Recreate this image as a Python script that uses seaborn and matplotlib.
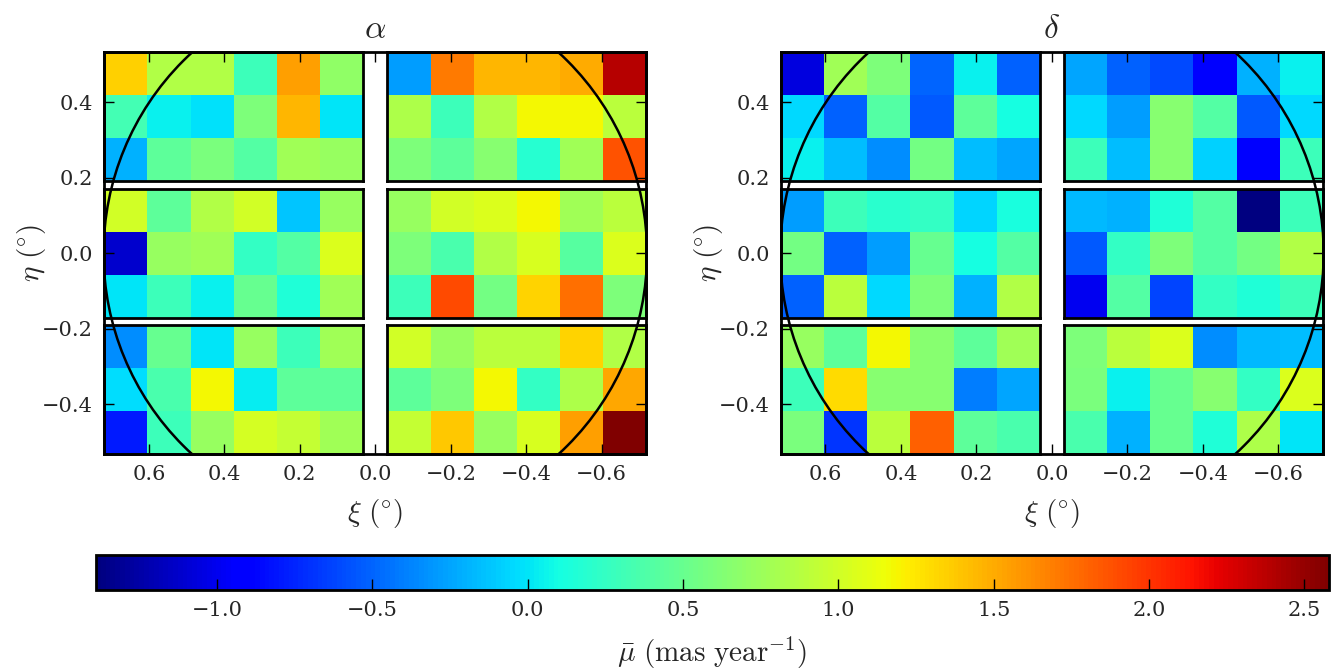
import numpy as np
import matplotlib
matplotlib.use("Agg")
import matplotlib.pyplot as plt
import seaborn as sns
from matplotlib.patches import Circle

# Mean proper motion per cell (mas / year).
# Rows run top -> bottom (eta decreasing), columns left -> right as drawn (xi decreasing).
# Columns 0-5 are the left chips, 6-11 the right chips; rows 0-2 / 3-5 / 6-8 the three chip rows.
alpha_mu = [
    [1.35, 0.85, 0.85, 0.30, 1.55, 0.70, -0.28, 1.70, 1.45, 1.45, 1.50, 2.38],
    [0.32, 0.04, -0.02, 0.60, 1.45, 0.00, 0.83, 0.30, 0.85, 1.17, 1.17, 0.90],
    [-0.20, 0.45, 0.58, 0.40, 0.78, 0.72, 0.60, 0.45, 0.65, 0.18, 0.78, 1.87],
    [1.00, 0.45, 0.85, 1.00, -0.12, 0.72, 0.72, 1.00, 1.05, 1.18, 0.78, 0.90],
    [-1.12, 0.72, 0.78, 0.25, 0.40, 1.05, 0.60, 0.36, 0.85, 1.03, 0.42, 1.05],
    [0.00, 0.30, 0.05, 0.50, 0.15, 0.78, 0.30, 1.90, 0.55, 1.33, 1.75, 0.60],
    [-0.35, 0.50, 0.00, 0.72, 0.30, 0.78, 1.00, 0.72, 0.90, 0.90, 1.33, 0.85],
    [-0.03, 0.35, 1.18, 0.03, 0.45, 0.45, 0.45, 0.60, 1.18, 0.25, 0.83, 1.52],
    [-0.80, 0.30, 0.72, 1.02, 0.95, 0.78, 0.95, 1.38, 0.72, 1.03, 1.55, 2.57],
]

delta_mu = [
    [-1.05, 0.78, 0.60, -0.50, 0.05, -0.52, -0.25, -0.52, -0.60, -0.93, -0.20, 0.05],
    [-0.05, -0.52, 0.40, -0.55, 0.45, 0.10, -0.05, -0.28, 0.65, 0.40, -0.55, -0.05],
    [0.04, -0.15, -0.35, 0.55, -0.15, -0.25, 0.30, -0.15, 0.65, -0.08, -0.90, 0.30],
    [-0.28, 0.30, 0.20, 0.25, -0.06, 0.12, -0.18, -0.20, 0.15, 0.40, -1.39, 0.30],
    [0.55, -0.52, -0.28, 0.50, 0.10, 0.40, -0.55, 0.25, 0.60, 0.40, 0.55, 0.85],
    [-0.52, 0.90, -0.05, 0.60, -0.20, 0.85, -1.00, 0.40, -0.62, 0.25, 0.15, 0.30],
    [0.72, 0.45, 1.18, 0.65, 0.45, 0.78, 0.60, 0.90, 1.05, -0.35, -0.18, -0.15],
    [0.30, 1.30, 0.65, 0.65, -0.40, -0.25, 0.58, 0.05, 0.50, 0.65, 0.25, 1.05],
    [0.58, -0.68, 0.90, 1.82, 0.45, 0.35, 0.35, -0.20, 0.50, 0.15, 0.83, 0.00],
]

panel_titles = [r"$\alpha$", r"$\delta$"]
xi_ticks = [0.6, 0.4, 0.2, 0.0, -0.2, -0.4, -0.6]
eta_ticks = [-0.4, -0.2, 0.0, 0.2, 0.4]
cbar_ticks = [-1.0, -0.5, 0.0, 0.5, 1.0, 1.5, 2.0, 2.5]

# chip layout on the sky (degrees) and colour range
XI_LIM = 0.718
ETA_LIM = 0.532
chip_xi = [(0.718, 0.032), (-0.032, -0.718)]
chip_eta = [(0.532, 0.19), (0.171, -0.171), (-0.19, -0.532)]
FIELD_RADIUS = 0.72
VMIN, VMAX = -1.39, 2.58

sns.set_theme(style="ticks")
plt.rcParams["font.family"] = ["DejaVu Serif"]
plt.rcParams["mathtext.fontset"] = "cm"
plt.rcParams["axes.unicode_minus"] = True

fig = plt.figure(figsize=(13.32, 6.70), dpi=100)
axes = [fig.add_axes([0.0783, 0.322, 0.4069, 0.600]),
        fig.add_axes([0.5863, 0.322, 0.4069, 0.600])]

mesh = None
for ax, vals, title in zip(axes, [alpha_mu, delta_mu], panel_titles):
    vals = np.array(vals)
    ax.set_xlim(XI_LIM, -XI_LIM)
    ax.set_ylim(-ETA_LIM, ETA_LIM)
    ax.set_axisbelow(False)  # ticks drawn over the chips

    # one small heatmap per chip, placed at its sky position
    for bi, (e_top, e_bot) in enumerate(chip_eta):
        for bj, (x_left, x_right) in enumerate(chip_xi):
            block = vals[3 * bi:3 * bi + 3, 6 * bj:6 * bj + 6]
            fx0, fy1 = ax.transLimits.transform((x_left, e_top))
            fx1, fy0 = ax.transLimits.transform((x_right, e_bot))
            iax = ax.inset_axes([fx0, fy0, fx1 - fx0, fy1 - fy0], zorder=1)
            sns.heatmap(block, ax=iax, cmap="jet", vmin=VMIN, vmax=VMAX,
                        cbar=False, xticklabels=False, yticklabels=False)
            for sp in iax.spines.values():
                sp.set_visible(True)
                sp.set_linewidth(2)
                sp.set_color("black")
            mesh = iax.collections[0]

    ax.add_patch(Circle((0, 0), FIELD_RADIUS, fill=False, lw=1.8,
                        color="black", zorder=6))

    ax.set_xticks(xi_ticks)
    ax.set_yticks(eta_ticks)
    ax.tick_params(direction="in", length=7.5, width=1, labelsize=15,
                   top=True, right=True, color="black", pad=8)
    for sp in ax.spines.values():
        sp.set_linewidth(2)
        sp.set_color("black")
    ax.set_xlabel(r"$\xi\ (^{\circ})$", fontsize=21, labelpad=9)
    ax.set_ylabel(r"$\eta\ (^{\circ})$", fontsize=21, labelpad=-4)
    ax.set_title(title, fontsize=24, pad=10)

cax = fig.add_axes([0.072, 0.119, 0.926, 0.052])
cbar = fig.colorbar(mesh, cax=cax, orientation="horizontal", ticks=cbar_ticks)
cax.set_axisbelow(False)
cbar.ax.tick_params(direction="in", length=8, width=1, labelsize=15,
                    color="black", pad=8)
cbar.outline.set_linewidth(2)
cbar.outline.set_edgecolor("black")
cbar.set_label(r"$\bar{\mu}\ (\mathrm{mas\ year^{-1}})$", fontsize=21, labelpad=10)

fig.savefig("out.png", dpi=100)
